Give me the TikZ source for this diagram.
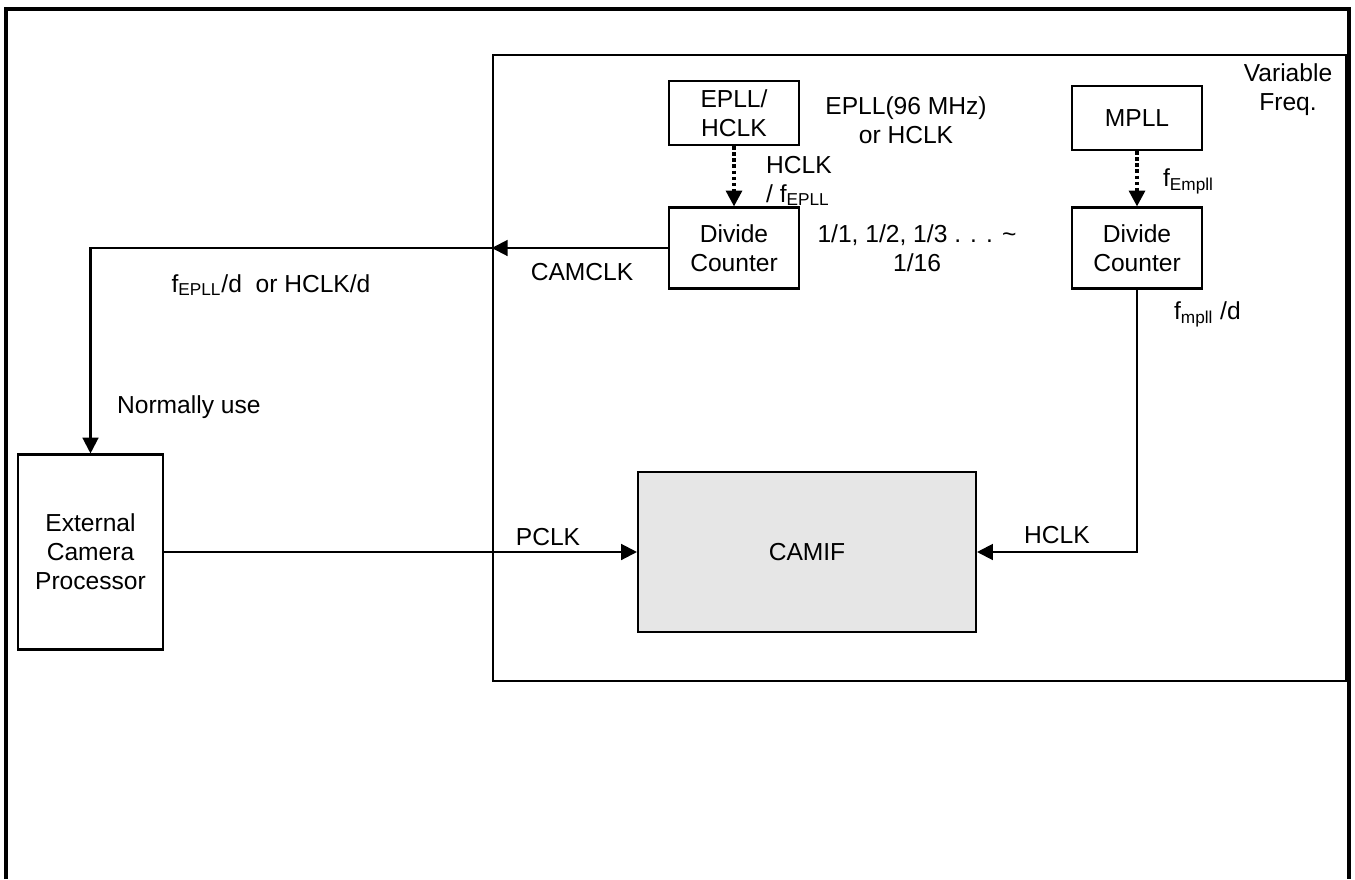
\documentclass[tikz,border=0pt]{standalone}
\usepackage{fontspec}
\setmainfont{Liberation Sans}
\usepackage{xcolor}
\usepackage{tikz}
\usetikzlibrary{positioning,arrows.meta,calc}
\definecolor{camgray}{HTML}{E6E6E6}
\tikzset{
  blk/.style={draw=black,line width=1.2pt,fill=white,align=center,
              minimum width=2.6cm,inner sep=2pt,font=\fontsize{14}{16.5}\selectfont},
  region/.style={draw=black,line width=1.5pt,minimum width=17.06cm,minimum height=12.52cm,inner sep=0pt},
  lbl/.style={align=center,inner sep=1pt,font=\fontsize{14}{16.5}\selectfont},
  arr/.style={-{Triangle[length=9pt,width=9pt]},draw=black,line width=1.2pt},
  dotarr/.style={-{Triangle[length=9pt,width=9pt]},draw=black,line width=2pt,
                 dash pattern=on 2pt off 1.5pt}
}
\begin{document}
\begin{tikzpicture}[x=0.02cm,y=-0.02cm]
  \useasboundingbox (0,0) rectangle (1355,879);
  % page frame, open at the bottom
  \draw[line width=1.9pt] (6,879) -- (6,9) -- (1349,9) -- (1349,879);
  % chip region
  \node[region] (soc) at (919.5,368) {};
  % clock sources and dividers
  \node[blk,minimum height=1.28cm] (epll) at (734,113) {EPLL/\\HCLK};
  \node[blk,minimum height=1.28cm] (mpll) at (1137,118) {MPLL};
  \node[blk,minimum height=1.62cm] (div1) at (734,248) {Divide\\Counter};
  \node[blk,minimum height=1.62cm] (div2) at (1137,248) {Divide\\Counter};
  \node[blk,fill=camgray,minimum width=6.76cm,minimum height=3.2cm] (camif) at (807,552) {CAMIF};
  \node[blk,minimum width=2.9cm,minimum height=3.9cm] (ext) at (90.5,552) {External\\Camera\\Processor};
  \coordinate (cc) at (soc.west |- div1.west);
  % connectors
  \draw[dotarr] (epll) -- (div1);
  \draw[dotarr] (mpll) -- (div2);
  \draw[arr] (div1) -- (cc);
  \draw[arr] (cc) -| (ext.north);
  \draw[arr] (ext) -- (camif);
  \draw[arr] (div2.south) |- (camif.east);
  % labels
  \node[lbl] (srclbl) at (906,120) {EPLL(96 MHz)\\or HCLK};
  \node[lbl,anchor=west,align=left] (hclkin) at (764,181) {HCLK\\/ f\textsubscript{EPLL}};
  \node[lbl] (ratio) at (917,248) {1/1, 1/2, 1/3 . . . \textasciitilde\\1/16};
  \node[lbl] (varf) at (1288,90) {Variable\\Freq.};
  \node[lbl,anchor=west] (fempll) at (1161,181) {f\textsubscript{Empll}};
  \node[lbl,anchor=west] (fmpll) at (1172,314) {f\textsubscript{mpll} /d};
  \node[lbl] (camclk) at (582,272) {CAMCLK};
  \node[lbl] (fdiv) at (271,285) {f\textsubscript{EPLL}/d\ \ or HCLK/d};
  \node[lbl,anchor=west] (normal) at (115,407) {Normally use};
  \node[lbl] (pclk) at (548,537) {PCLK};
  \node[lbl] (hclk) at (1057,535) {HCLK};
\end{tikzpicture}
\end{document}
